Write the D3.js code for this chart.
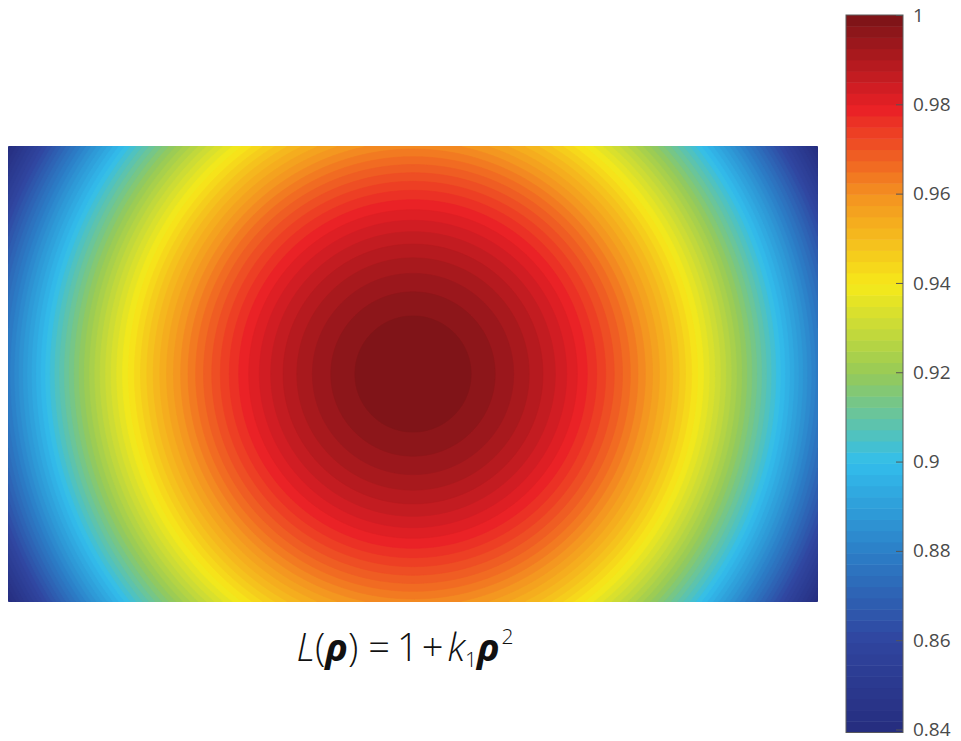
<!DOCTYPE html>
<html>
<head>
<meta charset="utf-8">
<script src="https://cdn.jsdelivr.net/npm/d3@7"></script>
<style>
  html, body { margin: 0; padding: 0; background: #fff; }
  svg { display: block; }
  .cb-axis text { font-family: "Open Sans", "Noto Sans", sans-serif; font-size: 19px; fill: #4a4a4a; }
  .cb-axis line { stroke: #555; }
  .formula { font-family: "Open Sans", "Noto Sans", sans-serif; font-weight: 300; fill: #111; }
</style>
</head>
<body>
<svg id="chart" width="961" height="741"></svg>
<script>
// Radial lens-distortion factor L(rho) = 1 + k1 * rho^2, rho normalised to the half-width
const k1 = -0.122;
const gridCols = 405;           // sample columns across the field
const gridRows = 228;           // sample rows (16:9 field)
const nLevels = 64;             // discrete colour levels

// Jet-style palette (print tones), positions 0..1 along the colour range
const stopPositions = [0, 0.125, 0.25, 0.375, 0.5, 0.625, 0.75, 0.875, 1];
const stopColors = [
  "rgb(38,46,128)", "rgb(48,70,160)", "rgb(44,128,200)", "rgb(50,190,236)",
  "rgb(150,202,88)", "rgb(246,234,26)", "rgb(244,148,32)", "rgb(234,32,38)", "rgb(128,20,24)"
];

// Colour-bar tick values and their labels
const tickValues = [0.84, 0.86, 0.88, 0.9, 0.92, 0.94, 0.96, 0.98, 1];
const tickLabels = ["0.84", "0.86", "0.88", "0.9", "0.92", "0.94", "0.96", "0.98", "1"];

const svg = d3.select("#chart");

// ---- Field -------------------------------------------------------------
const field = { left: 8, top: 146, width: 810, height: 456 };
const cell = field.width / gridCols;                     // 2 px per sample
const half = field.width / 2;

// grid index -> normalised coordinate (centre of the field = 0, half-width = 1)
const xNorm = d3.scaleLinear().domain([0, gridCols]).range([-1, 1]);
const yNorm = d3.scaleLinear().domain([0, gridRows]).range([-field.height / 2 / half, field.height / 2 / half]);

const values = new Float64Array(gridCols * gridRows);
for (let j = 0; j < gridRows; j++) {
  for (let i = 0; i < gridCols; i++) {
    const x = xNorm(i + 0.5), y = yNorm(j + 0.5);
    values[j * gridCols + i] = 1 + k1 * (x * x + y * y);
  }
}
const vMax = 1;
const vMin = 1 + k1 * (1 + Math.pow(field.height / 2 / half, 2));
const step = (vMax - vMin) / nLevels;
const levels = d3.range(nLevels).map(k => vMin + k * step);

const palette = d3.scaleLinear().domain(stopPositions).range(stopColors).interpolate(d3.interpolateRgb);
const levelColor = k => palette(k / (nLevels - 1));

const contours = d3.contours().size([gridCols, gridRows]).thresholds(levels.map((t, k) => k === 0 ? vMin - 1 : t))(values);

const fieldG = svg.append("g").attr("transform", `translate(${field.left},${field.top})`);
fieldG.append("clipPath").attr("id", "fieldClip")
  .append("rect").attr("width", field.width).attr("height", field.height);
const path = d3.geoPath(d3.geoIdentity().scale(cell));
fieldG.append("g").attr("clip-path", "url(#fieldClip)")
  .selectAll("path").data(contours).join("path")
  .attr("d", path)
  .attr("fill", (d, k) => levelColor(k))
  .attr("stroke", (d, k) => levelColor(k))
  .attr("stroke-width", 0.6);

// ---- Colour bar --------------------------------------------------------
const bar = { left: 846, width: 57 };
const yBar = d3.scaleLinear().domain([0.84, 1]).range([729.5, 15]);

const barG = svg.append("g");
barG.selectAll("rect.level").data(levels).join("rect")
  .attr("class", "level")
  .attr("x", bar.left)
  .attr("width", bar.width)
  .attr("y", d => yBar(d + step))
  .attr("height", d => yBar(d) - yBar(d + step) + 0.5)
  .attr("fill", (d, k) => levelColor(k));
barG.append("rect")
  .attr("x", bar.left).attr("y", yBar(vMax))
  .attr("width", bar.width).attr("height", yBar(vMin) - yBar(vMax))
  .attr("fill", "none").attr("stroke", "#5a5a5a").attr("stroke-width", 1);

const axis = d3.axisRight(yBar)
  .tickValues(tickValues)
  .tickFormat((d, i) => tickLabels[i])
  .tickSizeInner(-7).tickSizeOuter(0).tickPadding(10);
svg.append("g").attr("class", "cb-axis")
  .attr("transform", `translate(${bar.left + bar.width},0)`)
  .call(axis)
  .call(g => g.select(".domain").remove())
  .call(g => g.selectAll("text").attr("x", 10));

// ---- Formula caption ---------------------------------------------------
const f = svg.append("text").attr("class", "formula")
  .attr("x", field.left + field.width / 2 - 8).attr("y", 661)
  .attr("text-anchor", "middle").attr("font-size", 38);
f.append("tspan").attr("font-style", "italic").text("L");
f.append("tspan").text("(");
f.append("tspan").attr("font-style", "italic").attr("font-weight", 700).text("ρ");
f.append("tspan").text(")");
f.append("tspan").attr("dx", 10).text("=");
f.append("tspan").attr("dx", 7).text("1");
f.append("tspan").attr("dx", 3).text("+");
f.append("tspan").attr("dx", 4).attr("font-style", "italic").text("k");
f.append("tspan").attr("font-size", 21).attr("dy", 6).text("1");
f.append("tspan").attr("dy", -6).attr("font-style", "italic").attr("font-weight", 700).text("ρ");
f.append("tspan").attr("font-size", 21).attr("dx", 2).attr("dy", -17).text("2");
</script>
</body>
</html>
